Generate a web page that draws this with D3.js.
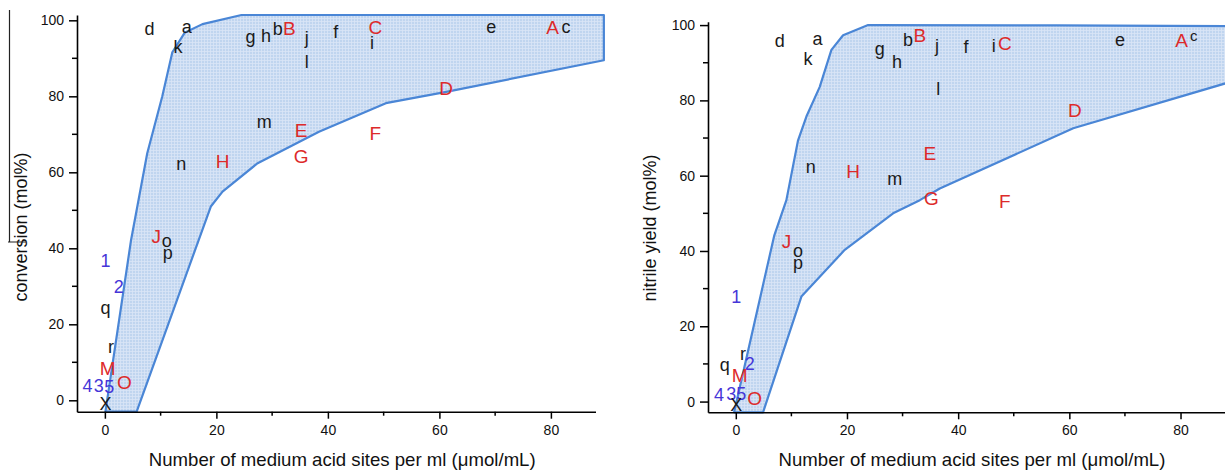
<!DOCTYPE html>
<html>
<head>
<meta charset="utf-8">
<script src="https://cdn.jsdelivr.net/npm/d3@7"></script>
<style>
  body { margin: 0; background: #fff; }
  svg { display: block; font-family: Arial, "Liberation Sans", sans-serif; }
</style>
</head>
<body>
<svg id="chart" width="1225" height="471"></svg>
<script>
// left panel: conversion
let convLabels = ['d','a','k','g','h','b','B','j','l','f','C','i','e','A','c','D','m','E','G','F','n','H','J','o','p','1','2','q','r','M','O','4','3','5','X']
let convX = [8.0,14.7,13.1,26.1,28.9,31.0,33.1,36.2,36.2,41.4,48.5,47.9,69.3,80.3,82.7,61.2,28.6,35.2,35.2,48.5,13.7,21.1,9.2,11.1,11.3,0.1,2.5,0.1,1.1,0.5,3.5,-3.1,-1.1,0.8,0.1]
let convY = [97.9,97.9,93.0,94.6,96.1,97.9,97.9,94.8,89.1,97.0,98.3,94.1,97.9,98.2,97.9,82.1,72.9,71.0,64.3,70.3,61.9,63.0,43.1,41.7,37.8,36.9,29.9,23.3,13.7,8.4,4.9,4.0,4.0,3.6,-0.8]

// right panel: nitrile yield
let yieldLabels = ['d','a','k','g','h','b','B','j','l','f','i','C','e','A','c','D','E','G','m','H','n','F','J','o','p','1','q','r','2','M','4','3','5','O','X']
let yieldX = [7.9,14.7,13.0,25.9,29.0,31.0,33.1,36.2,36.4,41.4,46.4,48.4,69.1,80.2,82.4,61.0,34.9,35.2,28.6,21.1,13.5,48.4,9.1,11.2,11.2,0.1,-2.0,1.3,2.5,0.7,-3.0,-0.8,1.0,3.4,0.1]
let yieldY = [96.0,96.0,91.2,92.5,90.3,96.2,97.3,94.0,83.2,94.2,94.7,95.3,95.8,96.0,96.9,77.4,65.9,54.0,58.8,61.3,61.9,53.1,42.5,39.8,35.8,28.0,8.8,12.4,10.2,7.1,1.8,2.2,2.2,0.9,-0.9]

// shaded envelopes (outline points)
let convEnvX = [0.1,4.7,7.6,10.3,12.1,14.3,17.5,24.5,89.5,89.5,61.0,50.4,38.4,27.4,21.1,19.0,5.7]
let convEnvY = [-3,42.2,65,80,91.6,96.7,99,101.4,101.4,89.5,81.1,78.2,70.7,62.4,54.9,51,-3]
let yieldEnvX = [-0.3,6.9,9.1,11.2,12.7,15.1,17.2,19.3,23.8,57.7,88.5,88.5,60.7,36.7,33.1,28.3,19.6,11.8,4.9]
let yieldEnvY = [-2.85,44,53.5,69.4,75.7,83.6,93.4,97.3,100,99.9,99.7,84.7,72.6,56.6,53.5,50,40.3,27.9,-2.85]

let xTicks = [0,20,40,60,80]
let xMinor = [10,30,50,70]
let yTicks = [0,20,40,60,80,100]
let yMinor = [10,30,50,70,90]

const colorOf = l => {
    if (/[A-Z]/.test(l) && l !== 'X') return '#dd2a2a'
    if (/[0-9]/.test(l)) return '#4636d8'
    return '#1a1a1a'
}
const baseK = l => {
    if (/[gpqy]/.test(l)) return 0.12
    if (l === 'j') return 0.22
    if (/[acemnorsuvwxz]/.test(l)) return 0.27
    return 0.36
}

let svg = d3.select('#chart')

let defs = svg.append('defs')
let pat = defs.append('pattern')
    .attr('id', 'hatch')
    .attr('patternUnits', 'userSpaceOnUse')
    .attr('width', 3)
    .attr('height', 3)
pat.append('rect').attr('width', 3).attr('height', 3).attr('fill', '#c0d5ef')
pat.append('path').attr('d', 'M0,0.5H3M0.5,0V3').attr('stroke', '#dae6f6').attr('stroke-width', 0.8)

const drawPanel = (opt) => {
    let x = d3.scaleLinear().domain([-5, 88]).range([opt.x0, opt.x1])
    let y = d3.scaleLinear().domain(opt.yDom).range([opt.yBot, opt.yTop])
    let g = svg.append('g')

    let pts = opt.envX.map((v, i) => [x(v), y(opt.envY[i])])
    g.append('path')
        .attr('d', d3.line()(pts) + 'Z')
        .attr('fill', 'url(#hatch)')
        .attr('stroke', '#4a86d6')
        .attr('stroke-width', 2.2)
        .attr('stroke-linejoin', 'round')

    let xAxis = g.append('g').attr('transform', `translate(0,${opt.yBot})`)
        .call(d3.axisBottom(x).tickValues(xTicks).tickSize(7).tickSizeOuter(0).tickPadding(6))
    xMinor.forEach(d => {
        xAxis.append('line').attr('x1', x(d)).attr('x2', x(d)).attr('y2', 4)
            .attr('stroke', '#000').attr('stroke-width', 1.5)
    })
    let yAxis = g.append('g').attr('transform', `translate(${opt.x0},0)`)
        .call(d3.axisLeft(y).tickValues(yTicks).tickSize(8).tickSizeOuter(0).tickPadding(5))
    yMinor.forEach(d => {
        yAxis.append('line').attr('x2', -5).attr('y1', y(d)).attr('y2', y(d))
            .attr('stroke', '#000').attr('stroke-width', 1.5)
    })
    g.selectAll('.domain').attr('stroke', '#000').attr('stroke-width', 1.6)
    g.selectAll('.tick line').attr('stroke', '#000').attr('stroke-width', 1.5)
    g.selectAll('.tick text').attr('font-size', 14).attr('fill', '#111')
        .attr('font-family', 'Arial, "Liberation Sans", sans-serif')

    opt.labels.forEach((l, i) => {
        let fs = /[A-Z]/.test(l) && l !== 'X' ? 19 : 18
        if (l === 'c' && opt.smallC) fs = 15
        g.append('text')
            .attr('x', x(opt.lx[i]))
            .attr('y', y(opt.ly[i]) + baseK(l) * fs)
            .attr('text-anchor', 'middle')
            .attr('font-size', fs)
            .attr('fill', colorOf(l))
            .text(l)
    })

    g.append('text')
        .attr('x', (opt.x0 + opt.x1 + opt.titleShift) / 2)
        .attr('y', 466)
        .attr('text-anchor', 'middle')
        .attr('font-size', 18.6)
        .attr('fill', '#111')
        .text('Number of medium acid sites per ml (\u03bcmol/mL)')

    g.append('text')
        .attr('transform', `translate(${opt.ylx},${opt.yly}) rotate(-90)`)
        .attr('text-anchor', 'middle')
        .attr('font-size', 18)
        .attr('fill', '#111')
        .text(opt.ytitle)
}

drawPanel({
    x0: 77, x1: 595.5, yDom: [-3, 101.4], yBot: 411.7, yTop: 15,
    envX: convEnvX, envY: convEnvY,
    labels: convLabels, lx: convX, ly: convY,
    ytitle: 'conversion (mol%)', ylx: 27, yly: 227, titleShift: 12, smallC: false
})
drawPanel({
    x0: 708, x1: 1225, yDom: [-2.85, 100.9], yBot: 412.3, yTop: 21.7,
    envX: yieldEnvX, envY: yieldEnvY,
    labels: yieldLabels, lx: yieldX, ly: yieldY,
    ytitle: 'nitrile yield (mol%)', ylx: 656, yly: 228, titleShift: 11, smallC: true
})

// stray scan line at the top left
svg.append('path')
    .attr('d', 'M9.5,10V242M8,242H26')
    .attr('fill', 'none')
    .attr('stroke', '#222')
    .attr('stroke-width', 1.2)
</script>
</body>
</html>
